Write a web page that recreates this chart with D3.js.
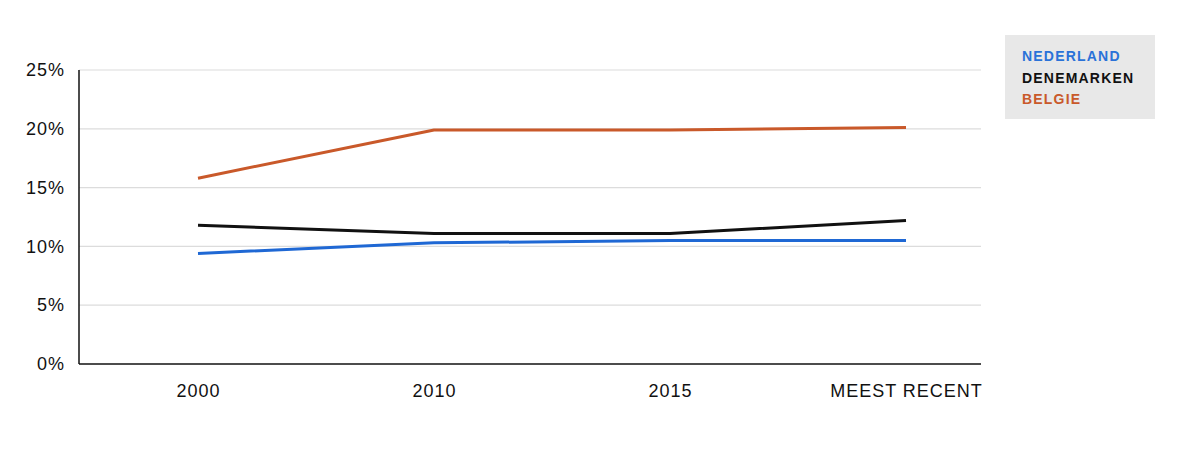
<!DOCTYPE html>
<html>
<head>
<meta charset="utf-8">
<script src="https://cdn.jsdelivr.net/npm/d3@7"></script>
<style>
  body { margin: 0; background: #fff; }
  svg { display: block; font-family: "Liberation Sans", Arial, sans-serif; }
  .grid line { stroke: #dcdcdc; stroke-width: 1.2; }
  .axis path, .axis line { stroke: #111; stroke-width: 1.5; }
  .tick text { fill: #111; font-size: 18px; letter-spacing: 1px; }
  .line { fill: none; stroke-width: 3; stroke-linejoin: round; }
  .legend text { font-size: 14px; font-weight: bold; letter-spacing: 1.2px; }
</style>
</head>
<body>
<svg id="chart" width="1200" height="465"></svg>
<script>
const periods = ['2000', '2010', '2015', 'MEEST RECENT'];
const yTicks = [0, 5, 10, 15, 20, 25];

const seriesNames = ['NEDERLAND', 'DENEMARKEN', 'BELGIE'];
const seriesColors = ['#1f68d4', '#111111', '#c9592a'];
const nederland = [9.4, 10.3, 10.5, 10.5];
const denemarken = [11.8, 11.1, 11.1, 12.2];
const belgie = [15.8, 19.9, 19.9, 20.1];

const series = [nederland, denemarken, belgie].map((values, i) => ({
  name: seriesNames[i],
  color: seriesColors[i],
  values: values.map((v, j) => ({ period: periods[j], value: v })),
}));

const plot = { left: 79, right: 981, top: 70, bottom: 364 };
const svg = d3.select('#chart');

const x = d3.scalePoint().domain(periods).range([198, 906]);
const y = d3.scaleLinear().domain([0, 25]).range([plot.bottom, plot.top]);

// gridlines
svg.append('g')
  .attr('class', 'grid')
  .selectAll('line')
  .data(yTicks.filter(d => d > 0))
  .enter().append('line')
    .attr('x1', plot.left)
    .attr('x2', plot.right)
    .attr('y1', d => y(d))
    .attr('y2', d => y(d));

// y axis
const yAxis = svg.append('g')
  .attr('class', 'axis')
  .attr('transform', `translate(${plot.left},0)`)
  .call(d3.axisLeft(y).tickValues(yTicks).tickSize(0).tickPadding(14).tickFormat(d => d + '%'));
yAxis.select('.domain').attr('d', `M0,${plot.top}V${plot.bottom}`);

// x axis
const xAxis = svg.append('g')
  .attr('class', 'axis')
  .attr('transform', `translate(0,${plot.bottom})`)
  .call(d3.axisBottom(x).tickSize(0).tickPadding(20));
xAxis.select('.domain').attr('d', `M${plot.left},0H${plot.right}`);

const line = d3.line()
  .x(d => x(d.period))
  .y(d => y(d.value));

svg.append('g')
  .selectAll('path')
  .data(series)
  .enter().append('path')
    .attr('class', 'line')
    .attr('stroke', d => d.color)
    .attr('d', d => line(d.values));

// legend
const legend = svg.append('g').attr('class', 'legend');
legend.append('rect')
  .attr('x', 1005)
  .attr('y', 35)
  .attr('width', 150)
  .attr('height', 84)
  .attr('fill', '#e8e8e8');
legend.selectAll('text')
  .data(series)
  .enter().append('text')
    .attr('x', 1022)
    .attr('y', (d, i) => 61 + i * 21.5)
    .attr('fill', d => d.color === '#1f68d4' ? '#2a72d8' : d.color)
    .text(d => d.name);
</script>
</body>
</html>
